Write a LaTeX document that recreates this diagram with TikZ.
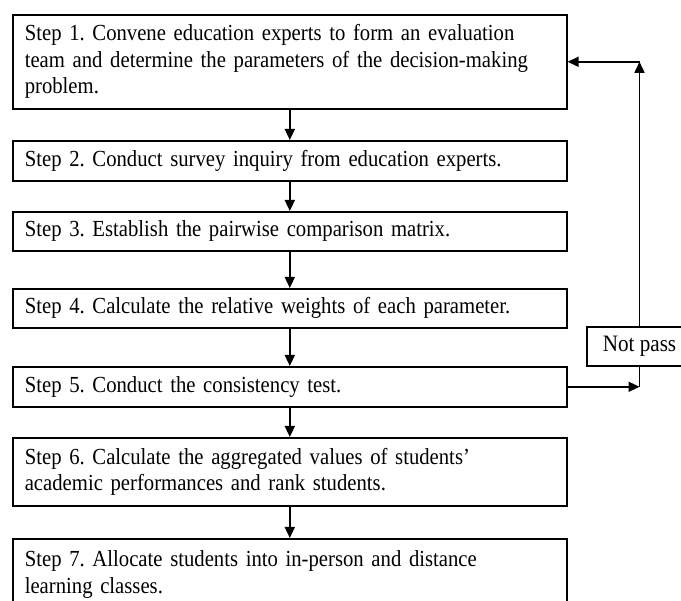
\documentclass[tikz,border=0pt]{standalone}
\usepackage{fontspec}
\setmainfont[FakeStretch=0.9]{Liberation Serif}
\usetikzlibrary{arrows.meta,calc}
\tikzset{
  stepbox/.style={draw=black, line width=1.6pt, anchor=north west, align=left,
    text width=530pt, inner xsep=12pt, inner ysep=0pt, minimum width=554pt,
    font=\fontsize{23}{26.5}\selectfont\frenchspacing},
  passbox/.style={draw=black, line width=1.6pt, minimum width=105pt, minimum height=39pt,
    inner sep=0pt, font=\fontsize{23.5}{26.5}\selectfont},
  arr/.style={line width=1.6pt, -{Triangle[length=11pt,width=10pt]}},
  ln/.style={line width=1.6pt}
}
\begin{document}
\begin{tikzpicture}[x=1pt,y=-1pt]
\useasboundingbox (0,0) rectangle (681,601);
\node[stepbox, minimum height=94pt] (s1) at (12,14) {Step 1. Convene education experts to form an evaluation\\team and determine the parameters of the decision-making\\problem.};
\node[stepbox, minimum height=40pt] (s2) at (12,140) {Step 2. Conduct survey inquiry from education experts.};
\node[stepbox, minimum height=39pt] (s3) at (12,211) {Step 3. Establish the pairwise comparison matrix.};
\node[stepbox, minimum height=39pt] (s4) at (12,288) {Step 4. Calculate the relative weights of each parameter.};
\node[stepbox, minimum height=40pt] (s5) at (12,366) {Step 5. Conduct the consistency test.};
\node[stepbox, minimum height=68pt] (s6) at (12,437) {Step 6. Calculate the aggregated values of students’\\academic performances and rank students.};
\node[stepbox, minimum height=71pt] (s7) at (12,538) {Step 7. Allocate students into in-person and distance\\learning classes.};
\node[passbox] (np) at (639.5,346.5) {Not pass};
\draw[arr] (s1) -- (s2);
\draw[arr] (s2) -- (s3);
\draw[arr] (s3) -- (s4);
\draw[arr] (s4) -- (s5);
\draw[arr] (s5) -- (s6);
\draw[arr] (s6) -- (s7);
\coordinate (c5) at (s5.east -| np.south);
\coordinate (c1) at (s1.east -| np.north);
\draw[arr] (s5.east) -- (c5);
\draw[ln] (np.south) -- (c5);
\draw[arr] (np.north) -- (c1);
\draw[arr] (c1) -- (s1.east);
\end{tikzpicture}
\end{document}
